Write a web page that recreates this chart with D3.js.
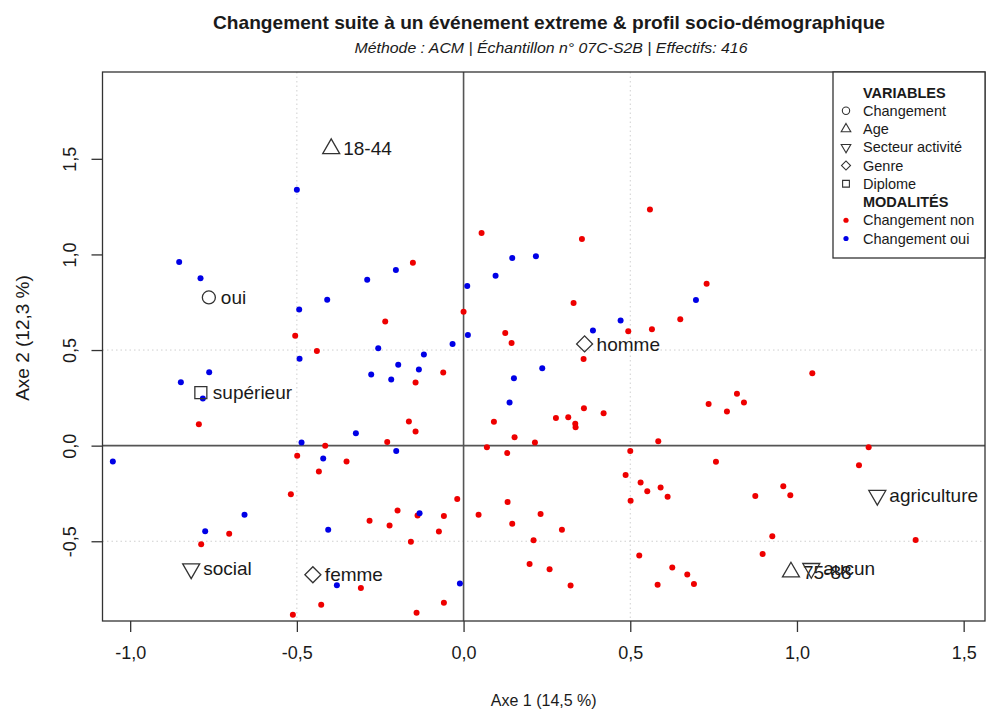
<!DOCTYPE html>
<html>
<head>
<meta charset="utf-8">
<script src="https://cdn.jsdelivr.net/npm/d3@7"></script>
<style>
  body { margin: 0; background: #fff; }
  text { font-family: "Liberation Sans", Arial, Helvetica, sans-serif; fill: #1a1a1a; }
</style>
</head>
<body>
<div id="wrapper"></div>
<script>
// individuals (coordinates on axes 1 and 2), coloured by "Changement"
const changementNon = [
  [0.054, 1.112], [0.355, 1.081], [0.559, 1.235], [-0.152, 0.956], [0.0, 0.700],
  [0.330, 0.746], [0.494, 0.598], [0.565, 0.609], [-0.235, 0.649], [0.125, 0.589],
  [0.144, 0.537], [-0.505, 0.575], [-0.44, 0.495], [0.729, 0.846], [0.650, 0.661],
  [1.046, 0.379], [0.820, 0.272], [0.841, 0.225], [0.735, 0.218], [0.790, 0.179],
  [-0.794, 0.112], [-0.415, 0.0], [-0.229, 0.019], [-0.499, -0.053], [-0.351, -0.083],
  [-0.434, -0.135], [-0.518, -0.254], [-0.198, -0.339], [-0.282, -0.393], [-0.222, -0.418],
  [-0.703, -0.461], [-0.787, -0.516], [-0.308, -0.744], [-0.427, -0.832], [-0.512, -0.884],
  [-0.061, 0.383], [-0.144, 0.330], [0.360, 0.453], [0.361, 0.196], [0.420, 0.170],
  [0.277, 0.144], [0.314, 0.149], [0.335, 0.114], [0.336, 0.096], [0.091, 0.125],
  [-0.164, 0.126], [-0.144, 0.074], [0.153, 0.044], [0.214, 0.016], [0.070, -0.009],
  [0.131, -0.039], [0.584, 0.023], [0.500, -0.028], [0.486, -0.154], [0.531, -0.193],
  [0.551, -0.238], [0.501, -0.288], [-0.019, -0.279], [0.132, -0.295], [0.045, -0.361],
  [0.231, -0.358], [0.146, -0.409], [0.295, -0.440], [0.210, -0.495], [-0.138, -0.365],
  [-0.059, -0.368], [-0.074, -0.449], [-0.158, -0.502], [0.527, -0.575], [0.198, -0.619],
  [0.258, -0.646], [0.321, -0.732], [0.582, -0.728], [-0.059, -0.821], [-0.141, -0.874],
  [1.215, -0.009], [1.186, -0.102], [0.757, -0.084], [0.591, -0.219], [0.612, -0.267],
  [0.875, -0.263], [0.959, -0.212], [0.980, -0.260], [1.356, -0.493], [0.926, -0.474],
  [0.897, -0.567], [0.626, -0.637], [0.671, -0.674], [0.691, -0.723]
]

const changementOui = [
  [-0.500, 1.338], [-0.853, 0.960], [-0.789, 0.875], [-0.289, 0.867], [-0.203, 0.919],
  [-0.409, 0.763], [-0.493, 0.712], [-0.256, 0.510], [0.146, 0.981], [0.217, 0.991],
  [0.096, 0.888], [0.011, 0.835], [0.471, 0.654], [0.388, 0.602], [0.013, 0.579],
  [-0.033, 0.532], [0.697, 0.762], [-0.492, 0.454], [-0.196, 0.423], [-0.763, 0.384],
  [-0.848, 0.332], [-0.277, 0.372], [-0.217, 0.346], [-0.782, 0.246], [-0.323, 0.065],
  [-0.486, 0.016], [-0.202, -0.028], [-1.052, -0.083], [-0.421, -0.067], [-0.657, -0.361],
  [-0.775, -0.447], [-0.406, -0.440], [-0.380, -0.730], [-0.119, 0.477], [-0.134, 0.398],
  [0.236, 0.405], [0.151, 0.353], [0.138, 0.226], [-0.132, -0.353], [-0.011, -0.721]
]

// categories (modalités) with the variable they belong to
const modaliteLabels = ["oui", "18-44", "supérieur", "social", "femme", "homme", "agriculture", "75-88", "aucun"]
const modaliteVariable = ["Changement", "Age", "Diplome", "Secteur activité", "Genre", "Genre", "Secteur activité", "Age", "Secteur activité"]
const modaliteX = [-0.764, -0.397, -0.788, -0.817, -0.452, 0.363, 1.241, 0.982, 1.043]
const modaliteY = [0.775, 1.553, 0.277, -0.644, -0.675, 0.532, -0.260, -0.661, -0.642]

const variables = ["Changement", "Age", "Secteur activité", "Genre", "Diplome"]
const groups = ["Changement non", "Changement oui"]
const xTicks = [-1, -0.5, 0, 0.5, 1, 1.5]
const yTicks = [-0.5, 0, 0.5, 1, 1.5]
const gridValues = [-0.5, 0.5]

const title = "Changement suite à un événement extreme & profil socio-démographique"
const subtitle = "Méthode : ACM | Échantillon n° 07C-S2B | Effectifs: 416"
const xLabel = "Axe 1 (14,5 %)"
const yLabel = "Axe 2 (12,3 %)"

// dimensions
const dimensions = {
  width: 987,
  height: 713,
  margins: { top: 72, right: 2, bottom: 92, left: 102.5 },
}
dimensions.boundedWidth = dimensions.width - dimensions.margins.left - dimensions.margins.right
dimensions.boundedHeight = dimensions.height - dimensions.margins.top - dimensions.margins.bottom

const wrapper = d3.select("#wrapper")
  .append("svg")
  .attr("width", dimensions.width)
  .attr("height", dimensions.height)

const bounds = wrapper.append("g")
  .attr("transform", `translate(${dimensions.margins.left},${dimensions.margins.top})`)

// scales
const xScale = d3.scaleLinear()
  .domain([-1.083, 1.564])
  .range([0, dimensions.boundedWidth])

const yScale = d3.scaleLinear()
  .domain([-0.917, 1.954])
  .range([dimensions.boundedHeight, 0])

const comma = (d) => d3.format(".1f")(d).replace(".", ",").replace("−", "-")

// grid lines at +/- 0.5
bounds.selectAll(".vgrid")
  .data(gridValues)
  .join("line")
  .attr("x1", (d) => xScale(d)).attr("x2", (d) => xScale(d))
  .attr("y1", 0).attr("y2", dimensions.boundedHeight)
  .attr("stroke", "#cfcfcf").attr("stroke-dasharray", "1.5,3")

bounds.selectAll(".hgrid")
  .data(gridValues)
  .join("line")
  .attr("y1", (d) => yScale(d)).attr("y2", (d) => yScale(d))
  .attr("x1", 0).attr("x2", dimensions.boundedWidth)
  .attr("stroke", "#cfcfcf").attr("stroke-dasharray", "1.5,3")

// zero lines
bounds.append("line")
  .attr("x1", xScale(0)).attr("x2", xScale(0))
  .attr("y1", 0).attr("y2", dimensions.boundedHeight)
  .attr("stroke", "#555").attr("stroke-width", 1.6)

bounds.append("line")
  .attr("y1", yScale(0)).attr("y2", yScale(0))
  .attr("x1", 0).attr("x2", dimensions.boundedWidth)
  .attr("stroke", "#555").attr("stroke-width", 1.6)

// individuals
const colors = { non: "#ee0000", oui: "#0000e6" }

bounds.selectAll(".non")
  .data(changementNon)
  .join("circle")
  .attr("cx", (d) => xScale(d[0]))
  .attr("cy", (d) => yScale(d[1]))
  .attr("r", 3)
  .attr("fill", colors.non)

bounds.selectAll(".oui")
  .data(changementOui)
  .join("circle")
  .attr("cx", (d) => xScale(d[0]))
  .attr("cy", (d) => yScale(d[1]))
  .attr("r", 3)
  .attr("fill", colors.oui)

// symbol per variable (R pch 1, 2, 6, 5, 0)
function symbolPath(variable, scale) {
  const s = scale
  if (variable === "Changement") return { d: d3.symbol(d3.symbolCircle, 133 * s)(), rot: 0 }
  if (variable === "Age") return { d: d3.symbol(d3.symbolTriangle, 125 * s)(), rot: 0 }
  if (variable === "Secteur activité") return { d: d3.symbol(d3.symbolTriangle, 125 * s)(), rot: 180 }
  if (variable === "Genre") return { d: d3.symbol(d3.symbolSquare, 128 * s)(), rot: 45 }
  return { d: d3.symbol(d3.symbolSquare, 144 * s)(), rot: 0 }
}

const modalites = modaliteLabels.map((label, i) => ({
  label, variable: modaliteVariable[i], x: modaliteX[i], y: modaliteY[i],
}))

const modaliteGroups = bounds.selectAll(".modalite")
  .data(modalites)
  .join("g")
  .attr("transform", (d) => `translate(${xScale(d.x)},${yScale(d.y)})`)

modaliteGroups.append("path")
  .attr("d", (d) => symbolPath(d.variable, 1).d)
  .attr("transform", (d) => `rotate(${symbolPath(d.variable, 1).rot})`)
  .attr("fill", "none")
  .attr("stroke", "#333")
  .attr("stroke-width", 1.3)

modaliteGroups.append("text")
  .attr("x", 12)
  .attr("dy", "0.35em")
  .style("font-size", "19px")
  .text((d) => d.label)

// box
bounds.append("rect")
  .attr("width", dimensions.boundedWidth)
  .attr("height", dimensions.boundedHeight)
  .attr("fill", "none")
  .attr("stroke", "#333")
  .attr("stroke-width", 1.3)

// axes
const xAxisGenerator = d3.axisBottom(xScale)
  .tickValues(xTicks).tickFormat(comma).tickSize(11).tickPadding(14)

const xAxis = bounds.append("g")
  .attr("transform", `translate(0,${dimensions.boundedHeight})`)
  .call(xAxisGenerator)
xAxis.select(".domain").remove()
xAxis.selectAll("line").attr("stroke", "#333").attr("stroke-width", 1.3)
xAxis.selectAll("text")
  .style("font-size", "18px")
  .style("font-family", "Liberation Sans, Arial, sans-serif")
  .attr("fill", "#1a1a1a")

const yAxisGenerator = d3.axisLeft(yScale)
  .tickValues(yTicks).tickFormat(comma).tickSize(11)

const yAxis = bounds.append("g").call(yAxisGenerator)
yAxis.select(".domain").remove()
yAxis.selectAll("line").attr("stroke", "#333").attr("stroke-width", 1.3)
yAxis.selectAll("text")
  .attr("x", 0).attr("dy", 0)
  .attr("transform", "translate(-27,0) rotate(-90)")
  .attr("text-anchor", "middle")
  .style("font-size", "18px")
  .style("font-family", "Liberation Sans, Arial, sans-serif")
  .attr("fill", "#1a1a1a")

// axis titles
wrapper.append("text")
  .attr("x", dimensions.margins.left + dimensions.boundedWidth / 2)
  .attr("y", 706)
  .attr("text-anchor", "middle")
  .style("font-size", "16px")
  .text(xLabel)

wrapper.append("text")
  .attr("transform", `translate(29,338) rotate(-90)`)
  .attr("text-anchor", "middle")
  .style("font-size", "19px")
  .text(yLabel)

// title and subtitle
wrapper.append("text")
  .attr("x", 549).attr("y", 29)
  .attr("text-anchor", "middle")
  .attr("textLength", 672).attr("lengthAdjust", "spacingAndGlyphs")
  .style("font-size", "19px").style("font-weight", "bold")
  .text(title)

wrapper.append("text")
  .attr("x", 551).attr("y", 53)
  .attr("text-anchor", "middle")
  .attr("textLength", 393).attr("lengthAdjust", "spacingAndGlyphs")
  .style("font-size", "14px").style("font-style", "italic")
  .text(subtitle)

// legend
const legend = wrapper.append("g")
  .attr("transform", `translate(833,${dimensions.margins.top})`)

legend.append("rect")
  .attr("width", dimensions.width - dimensions.margins.right - 833)
  .attr("height", 186)
  .attr("fill", "#fff")
  .attr("stroke", "#333")
  .attr("stroke-width", 1.3)

const rowY = (i) => 20.5 + i * 18.25
const textX = 30
const symX = 13

legend.append("text")
  .attr("x", textX).attr("y", rowY(0)).attr("dy", "0.35em")
  .style("font-size", "14.5px").style("font-weight", "bold")
  .text("VARIABLES")

variables.forEach((v, i) => {
  const sym = symbolPath(v, 0.32)
  legend.append("path")
    .attr("d", sym.d)
    .attr("transform", `translate(${symX},${rowY(i + 1)}) rotate(${sym.rot})`)
    .attr("fill", "none").attr("stroke", "#333").attr("stroke-width", 1.1)
  legend.append("text")
    .attr("x", textX).attr("y", rowY(i + 1)).attr("dy", "0.35em")
    .style("font-size", "14.5px")
    .text(v)
})

legend.append("text")
  .attr("x", textX).attr("y", rowY(6)).attr("dy", "0.35em")
  .style("font-size", "14.5px").style("font-weight", "bold")
  .text("MODALITÉS")

groups.forEach((g, i) => {
  legend.append("circle")
    .attr("cx", symX).attr("cy", rowY(7 + i)).attr("r", 2.6)
    .attr("fill", i === 0 ? colors.non : colors.oui)
  legend.append("text")
    .attr("x", textX).attr("y", rowY(7 + i)).attr("dy", "0.35em")
    .style("font-size", "14.5px")
    .text(g)
})
</script>
</body>
</html>
